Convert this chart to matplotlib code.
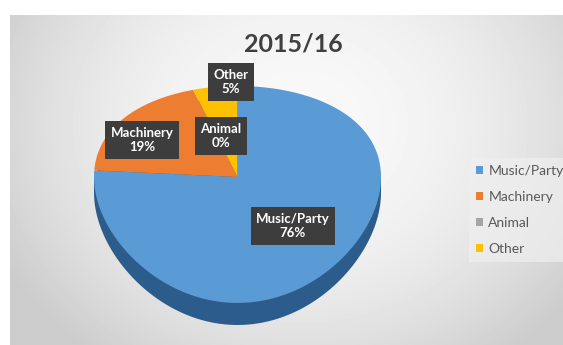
import numpy as np
import matplotlib.pyplot as plt

# Share of complaints by source, 2015/16
categories = ["Music/Party", "Machinery", "Animal", "Other"]
shares = [76, 19, 0, 5]
slice_colors = ["#5B9BD5", "#ED7D31", "#A5A5A5", "#FFC000"]
side_color = "#2C5C8C"
title = "2015/16"

W, H = 563, 345

# where the dark label boxes sit (pixel centres, measured from the top-left)
label_xy = {"Music/Party": (293, 226), "Machinery": (142, 140),
            "Animal": (221, 136), "Other": (231, 82)}

plt.rcParams["font.family"] = ["Lato", "DejaVu Sans"]

fig = plt.figure(figsize=(W / 100, H / 100), dpi=100, facecolor="white")

# soft grey radial backdrop behind the chart
bg = fig.add_axes([10 / W, 0, (W - 10) / W, (H - 15) / H])
yy, xx = np.mgrid[0:H - 15, 0:W - 10]
r2 = ((xx - 290) / 300.0) ** 2 + ((yy - 110) / 260.0) ** 2
shade = np.clip(0.975 - 0.14 * r2, 0.80, 1.0)
bg.imshow(shade, cmap="gray", vmin=0, vmax=1, aspect="auto", interpolation="bilinear")
bg.axis("off")

# tilted pie: a y-scale with perspective squashes the far half more than the near half
tilt = 0.161


def fwd(y):
    y = np.asarray(y, dtype=float)
    return y * (1 + tilt) / (1 + tilt * y)


def inv(z):
    z = np.asarray(z, dtype=float)
    return z / ((1 + tilt) - tilt * z)


ax = fig.add_axes([0, 0, 1, 1])
ax.patch.set_visible(False)
ax.set_yscale("function", functions=(fwd, inv))

# slices run clockwise from twelve o'clock
start = 90.0
bounds = start - 360 * np.concatenate([[0], np.cumsum(shares)]) / sum(shares)

# the visible rim below the top face
depth = 0.143
t = np.linspace(0, 2 * np.pi, 400)
ax.fill(np.cos(t), np.sin(t) - depth, color=side_color, lw=0, zorder=1)
ax.fill_between([-1, 1], -depth, 0, color=side_color, lw=0, zorder=1)

handles = []
for i, color in enumerate(slice_colors):
    a = np.radians(np.linspace(bounds[i], bounds[i + 1], 300))
    xs = np.concatenate([[0], np.cos(a), [0]])
    ys = np.concatenate([[0], np.sin(a), [0]])
    patch, = ax.fill(xs, ys, color=color, lw=0, zorder=2)
    handles.append(patch)

cx, rx = 237.5, 143.5
cy, ry = 177.0, 91.0
ax.set_xlim(-cx / rx, (W - cx) / rx)
ax.set_ylim(inv(-(H - cy) / ry), inv(cy / ry))
ax.axis("off")

fig.text(293 / W, 1 - 44 / H, title, ha="center", va="center",
         fontsize=18, fontweight="bold", color="#404040")

for cat, val in zip(categories, shares):
    px, py = label_xy[cat]
    fig.text(px / W, 1 - py / H, f"{cat}\n{val}%", ha="center", va="center",
             fontsize=9.5, fontweight="bold", color="white", linespacing=1.25,
             zorder=5,
             bbox=dict(boxstyle="square,pad=0.4", fc="#3d3d3d", ec="none"))

leg = fig.legend(handles, categories, loc="upper left",
                 bbox_to_anchor=(462 / W, 1 - 151 / H), fontsize=10,
                 handlelength=0.5, handleheight=0.5, handletextpad=0.4,
                 labelspacing=1.0, borderpad=0.5, frameon=True, fancybox=False)
leg.get_frame().set_facecolor("#efefef")
leg.get_frame().set_edgecolor("none")
leg.get_frame().set_alpha(0.7)
for txt in leg.get_texts():
    txt.set_color("#595959")

fig.savefig("out.png", dpi=100, facecolor="white")
